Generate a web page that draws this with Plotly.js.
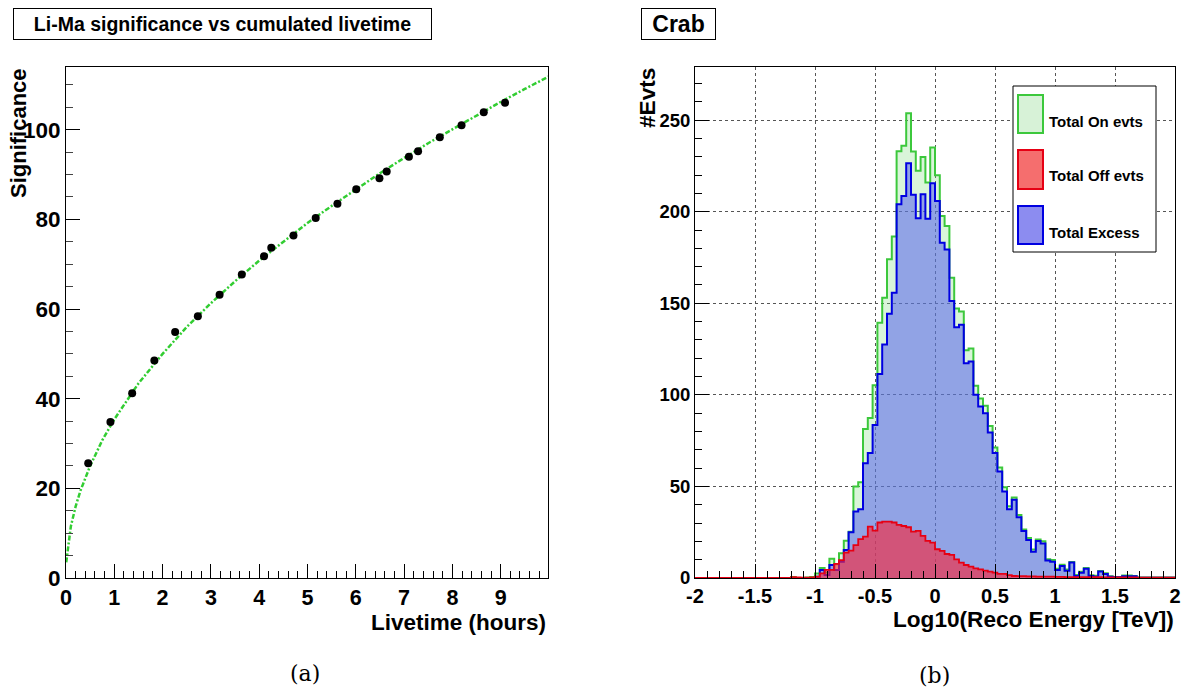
<!DOCTYPE html>
<html><head><meta charset="utf-8">
<script src="https://cdn.plot.ly/plotly-3.0.1.min.js"></script>
<style>html,body{margin:0;padding:0;background:#fff}</style>
</head><body><div id="chart" style="width:1182px;height:689px"></div>
<script>
// ---- (a) Li-Ma significance vs cumulated livetime ----
const livetimeHours = [0.46, 0.92, 1.37, 1.83, 2.26, 2.73, 3.18, 3.64, 4.10, 4.25, 4.71, 5.17, 5.62, 6.01, 6.49, 6.64, 7.10, 7.29, 7.74, 8.19, 8.65, 9.09];
const significance  = [25.6, 34.8, 41.2, 48.5, 54.9, 58.4, 63.2, 67.7, 71.8, 73.7, 76.4, 80.3, 83.5, 86.7, 89.2, 90.7, 94.0, 95.2, 98.3, 101.0, 103.9, 106.0];
const fitLivetime     = [0.005, 0.05, 0.1, 0.2, 0.3, 0.5, 0.75, 1, 1.5, 2, 2.5, 3, 3.5, 4, 4.5, 5, 5.5, 6, 6.5, 7, 7.5, 8, 8.5, 9, 9.5, 10];
const fitSignificance = [3.5, 8, 11.5, 16, 19.5, 25, 30.7, 35.4, 43.4, 50, 56, 61.3, 66.2, 70.8, 75.1, 79.2, 83, 86.7, 90.3, 93.7, 97, 100.1, 103.2, 106.2, 109.1, 111.9];
const livetimeTicks     = [0, 1, 2, 3, 4, 5, 6, 7, 8, 9];
const significanceTicks = [0, 20, 40, 60, 80, 100];

// ---- (b) Crab energy histograms: 100 bins from -2 to 2 ----
const energyBinLow = -2;
const energyBinWidth = 0.04;
const onEvents = [
  0,0,0,0,0,0,0,0,0,0, 0,0,0,0,0,0,0,0,0,0,
  0.5,0,0,0.3,0.5, 2.5,5.5,3,10.5,7.5,
  13.5,20.4,25.3,50,52.3, 81.3,87.3,105.2,139.3,153,
  174,186.4,233,236,253.8, 232.9,222.3,229.9,215.9,235,
  219.9,197.7,192.2,163.9,147.2, 145.5,124.3,125.3,105,98,
  94,83,71.2,60.3,49.5, 39.2,44,34.4,26.5,21.8,
  15.5,21,20,10.3,9.8, 5,7.2,4.6,8.8,1.6,
  3.4,5.5,1.5,1.2,3.8, 2.6,1,0.6,0.6,1.3,
  1.3,1.1,0.3,0.3,0.3, 0.3,0.3,0.3,0.3,0.3];
const offEvents = [
  0,0,0,0,0,0,0,0,0,0, 0,0,0,0,0,0,0,0,0,0,
  0.5,0.3,0.2,0.2,0.3, 0.7,2.5,4.4,4.4,7.7,
  9.8,13.9,15,18,21.2, 22.6,28.1,25.9,30.3,30.8,
  30.8,30.3,29,28.4,27.7, 25.3,25.7,23,20.3,19.3,
  15.7,14.8,13.1,12.6,10.2, 8.4,7.1,6.2,5.3,4.7,
  4,3.5,2.9,2.2,2.2, 1.6,1.1,1,1,0.9,
  0.9,0.8,0.8,0.7,0.7, 0.6,0.6,0.5,0.5,0.5,
  0.5,0.4,0.4,0.4,0.4, 0.3,0.3,0.3,0.3,0.3,
  0.3,0.3,0.2,0.2,0.2, 0.2,0.2,0.2,0.2,0.2];
const excessEvents = [
  0,0,0,0,0,0,0,0,0,0, 0,0,0,0,0,0,0,0,0,0,
  0,0,0,0,0, 0.7,4.4,1.6,7.1,4.4,
  8.9,15.3,25,36.3,37.6, 62.7,68.2,83.5,111.4,127.5,
  144.3,155.7,204,208.6,226.5, 209.2,196.4,209.5,196.2,215.5,
  205.9,183.1,179.4,151.2,136.9, 138.3,117.3,118.2,100,93.7,
  90,79.5,68.2,58.2,47.2, 37.5,42.7,33.2,25.7,20.8,
  14.4,20.2,18.9,9.5,8.9, 4.4,6.6,4,8.4,1.1,
  2.9,5.1,1.1,0.7,3.5, 2.2,0.7,0.4,0.4,1,
  1,1,0.2,0.2,0.2, 0.2,0.2,0.2,0.2,0.2];
const energyTickVals = [-2, -1.5, -1, -0.5, 0, 0.5, 1, 1.5, 2];
const energyTickText = ['-2', '-1.5', '-1', '-0.5', '0', '0.5', '1', '1.5', '2'];
const countTicks = [0, 50, 100, 150, 200, 250];
const legendLabels = ['Total On evts', 'Total Off evts', 'Total Excess'];

// ---- helpers ----
const W = 1182, H = 689;
const px = p => p / W;
const py = p => 1 - p / H;
const edges = [];
for (let i = 0; i <= onEvents.length; i++) edges.push(+(energyBinLow + i * energyBinWidth).toFixed(4));
const stepY = arr => arr.concat([arr[arr.length - 1]]);
const b = s => '<b>' + s + '</b>';

const FONT = '"Liberation Sans", Arial, Helvetica, sans-serif';
const bold = (size, color) => ({family: FONT, size: size, color: color || '#000', weight: 700});

const GREEN = 'rgb(60,200,60)', BLUE = 'rgb(0,0,225)', RED = 'rgb(230,0,20)';

const traces = [
  {x: fitLivetime, y: fitSignificance, xaxis: 'x', yaxis: 'y', mode: 'lines', type: 'scatter',
   line: {color: 'rgb(50,205,50)', width: 2.5, dash: '5px,2px,2px,2px'}, showlegend: false, hoverinfo: 'skip'},
  {x: livetimeHours, y: significance, xaxis: 'x', yaxis: 'y', mode: 'markers', type: 'scatter',
   marker: {color: '#000', size: 8}, showlegend: false},
  {x: edges, y: stepY(onEvents), xaxis: 'x2', yaxis: 'y2', type: 'scatter', mode: 'lines',
   line: {shape: 'hv', color: GREEN, width: 2}, fill: 'tozeroy', fillcolor: 'rgba(120,220,120,0.28)',
   name: legendLabels[0], showlegend: false},
  {x: edges, y: stepY(excessEvents), xaxis: 'x2', yaxis: 'y2', type: 'scatter', mode: 'lines',
   line: {shape: 'hv', color: BLUE, width: 2}, fill: 'tozeroy', fillcolor: 'rgba(85,95,238,0.55)',
   name: legendLabels[2], showlegend: false},
  {x: edges, y: stepY(offEvents), xaxis: 'x2', yaxis: 'y2', type: 'scatter', mode: 'lines',
   line: {shape: 'hv', color: RED, width: 1.8}, fill: 'tozeroy', fillcolor: 'rgba(250,35,55,0.62)',
   name: legendLabels[1], showlegend: false}
];

const axisCommon = {
  showline: true, linecolor: '#000', linewidth: 1, mirror: true, zeroline: false,
  ticks: 'inside', tickcolor: '#000', tickwidth: 1, ticklen: 14
};

const yDom = [py(578), py(67)];

const layout = {
  width: W, height: H, margin: {l: 0, r: 0, t: 0, b: 0},
  paper_bgcolor: '#fff', plot_bgcolor: '#fff', showlegend: false,
  xaxis: Object.assign({}, axisCommon, {
    domain: [px(66), px(548)], range: [0, 9.98], anchor: 'y',
    tickmode: 'array', tickvals: livetimeTicks, ticktext: livetimeTicks.map(b),
    showgrid: false, tickfont: bold(21.5),
    minor: {dtick: 0.2, tick0: 0, ticks: 'inside', ticklen: 7, tickcolor: '#000', showgrid: false}
  }),
  yaxis: Object.assign({}, axisCommon, {
    domain: yDom, range: [0, 114], anchor: 'x',
    tickmode: 'array', tickvals: significanceTicks, ticktext: significanceTicks.map(b),
    showgrid: false, tickfont: bold(22.5),
    minor: {dtick: 5, tick0: 0, ticks: 'inside', ticklen: 7, tickcolor: '#444', showgrid: false}
  }),
  xaxis2: Object.assign({}, axisCommon, {
    domain: [px(695), px(1175)], range: [-2, 2], anchor: 'y2',
    tickmode: 'array', tickvals: energyTickVals, ticktext: energyTickText.map(b),
    showgrid: true, gridcolor: '#555', griddash: 'dot', gridwidth: 1, tickfont: bold(20),
    minor: {dtick: 0.1, tick0: 0, ticks: 'inside', ticklen: 7, tickcolor: '#000', showgrid: false}
  }),
  yaxis2: Object.assign({}, axisCommon, {
    domain: yDom, range: [0, 279], anchor: 'x2',
    tickmode: 'array', tickvals: countTicks, ticktext: countTicks.map(b),
    showgrid: true, gridcolor: '#555', griddash: 'dot', gridwidth: 1, tickfont: bold(18.5),
    minor: {dtick: 10, tick0: 0, ticks: 'inside', ticklen: 7, tickcolor: '#000', showgrid: false}
  }),
  shapes: [
    {type: 'rect', xref: 'paper', yref: 'paper', x0: px(1013), x1: px(1156), y0: py(252), y1: py(86),
     line: {color: '#000', width: 1}, fillcolor: '#fff', layer: 'above'},
    {type: 'rect', xref: 'paper', yref: 'paper', x0: px(1018), x1: px(1043), y0: py(133), y1: py(95),
     line: {color: GREEN, width: 2}, fillcolor: 'rgb(215,242,215)', layer: 'above'},
    {type: 'rect', xref: 'paper', yref: 'paper', x0: px(1018), x1: px(1043), y0: py(189), y1: py(150),
     line: {color: RED, width: 2}, fillcolor: 'rgb(245,110,110)', layer: 'above'},
    {type: 'rect', xref: 'paper', yref: 'paper', x0: px(1018), x1: px(1043), y0: py(244), y1: py(206),
     line: {color: BLUE, width: 2}, fillcolor: 'rgb(140,140,240)', layer: 'above'}
  ],
  annotations: [
    {text: b('Li-Ma significance vs cumulated livetime'), xref: 'paper', yref: 'paper',
     x: px(222.5), y: py(24), xanchor: 'center', yanchor: 'middle', showarrow: false,
     font: bold(19.5), bordercolor: '#000', borderwidth: 1, borderpad: 1, width: 415, height: 28, bgcolor: '#fff'},
    {text: b('Crab'), xref: 'paper', yref: 'paper',
     x: px(678.5), y: py(24), xanchor: 'center', yanchor: 'middle', showarrow: false,
     font: bold(23), bordercolor: '#000', borderwidth: 1, borderpad: 1, width: 71, height: 28, bgcolor: '#fff'},
    {text: b('Livetime (hours)'), xref: 'paper', yref: 'paper', x: px(548), y: py(622),
     xanchor: 'right', yanchor: 'middle', showarrow: false, font: bold(22.5)},
    {text: b('Significance'), xref: 'paper', yref: 'paper', x: px(19), y: py(66),
     xanchor: 'center', yanchor: 'top', textangle: -90, showarrow: false, font: bold(22)},
    {text: b('Log10(Reco Energy [TeV])'), xref: 'paper', yref: 'paper', x: px(1176), y: py(619),
     xanchor: 'right', yanchor: 'middle', showarrow: false, font: bold(22.6)},
    {text: b('#Evts'), xref: 'paper', yref: 'paper', x: px(648), y: py(66),
     xanchor: 'center', yanchor: 'top', textangle: -90, showarrow: false, font: bold(22.6)},
    {text: '(a)', xref: 'paper', yref: 'paper', x: px(305), y: py(673), xanchor: 'center', yanchor: 'middle',
     showarrow: false, font: {family: '"DejaVu Serif", "Liberation Serif", serif', size: 22, color: '#000'}},
    {text: '(b)', xref: 'paper', yref: 'paper', x: px(935), y: py(675), xanchor: 'center', yanchor: 'middle',
     showarrow: false, font: {family: '"DejaVu Serif", "Liberation Serif", serif', size: 22, color: '#000'}},
    {text: b(legendLabels[0]), xref: 'paper', yref: 'paper', x: px(1047), y: py(121), xanchor: 'left', yanchor: 'middle',
     showarrow: false, font: bold(15)},
    {text: b(legendLabels[1]), xref: 'paper', yref: 'paper', x: px(1047), y: py(176), xanchor: 'left', yanchor: 'middle',
     showarrow: false, font: bold(15)},
    {text: b(legendLabels[2]), xref: 'paper', yref: 'paper', x: px(1047), y: py(232), xanchor: 'left', yanchor: 'middle',
     showarrow: false, font: bold(15)}
  ]
};

Plotly.newPlot('chart', traces, layout, {staticPlot: true, displayModeBar: false});
</script>
</body></html>
